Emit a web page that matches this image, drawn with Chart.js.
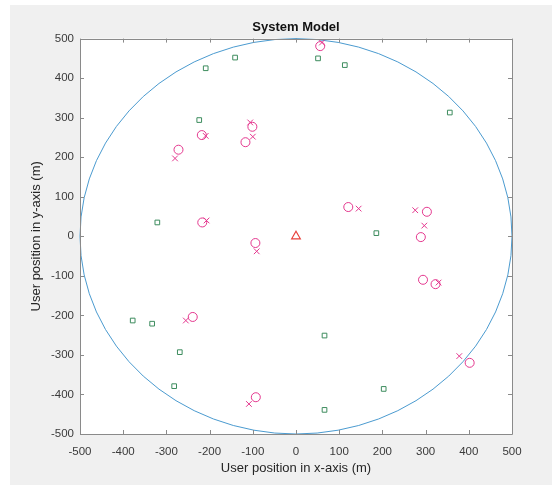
<!DOCTYPE html>
<html><head><meta charset="utf-8">
<script src="https://cdn.jsdelivr.net/npm/chart.js@4/dist/chart.umd.min.js"></script>
<style>html,body{margin:0;padding:0;background:#fff;}#wrap{width:552px;height:485px;position:relative;}canvas{display:block;}</style>
</head><body><div id="wrap"><canvas id="c" width="552" height="485"></canvas></div>
<script>
const titleText = 'System Model';
const xAxisTitle = 'User position in x-axis (m)';
const yAxisTitle = 'User position in y-axis (m)';
const axisMin = -500, axisMax = 500, tickStep = 100;
const cellRadius = 500;

// base station
const bsX = [0];
const bsY = [0];
// green squares
const squareX = [-378, -333, 66, -269, -282, 203, 66, -321, 186, 51, 113, -141, -209, -224, 356];
const squareY = [-213, -221, -251, -293, -379, -386, -439, 35, 8, 450, 433, 452, 425, 294, 313];
// magenta circles
const circleX = [-239, 402, -93, -217, -94, 121, 303, 289, 294, 323, 56, -218, -101, -117, -272];
const circleY = [-204, -320, -407, 35, -17, 74, 62, -2, -110, -121, 481, 256, 277, 238, 219];
// magenta crosses
const crossX = [-255, 378, -109, -207, -91, 145, 276, 297, 330, 60, -209, -106, -100, -280];
const crossY = [-213, -303, -424, 40, -38, 70, 66, 27, -117, 490, 254, 288, 252, 197];

const pts = (xs, ys) => xs.map((v, i) => ({x: v, y: ys[i]}));

const fontFam = '"Liberation Sans", Arial, Helvetica, sans-serif';

const frame = {
  id: 'frame',
  beforeDraw(chart) {
    const {ctx, width, height, chartArea: a} = chart;
    ctx.save();
    ctx.fillStyle = '#ffffff';
    ctx.fillRect(0, 0, width, height);
    ctx.fillStyle = '#f0f0f0';
    ctx.fillRect(10, 5, width - 10, height - 5);
    ctx.fillStyle = '#ffffff';
    ctx.fillRect(a.left, a.top, a.right - a.left, a.bottom - a.top);
    ctx.restore();
  },
  beforeDatasetsDraw(chart) {
    const {ctx, scales: {x, y}} = chart;
    const cx = x.getPixelForValue(0), cy = y.getPixelForValue(0);
    const rx = x.getPixelForValue(cellRadius) - cx;
    const ry = cy - y.getPixelForValue(cellRadius);
    ctx.save();
    ctx.strokeStyle = '#4b9bd0';
    ctx.lineWidth = 1;
    ctx.beginPath();
    ctx.ellipse(cx, cy, rx, ry, 0, 0, Math.PI * 2);
    ctx.stroke();
    ctx.restore();
  },
  afterDatasetsDraw(chart) {
    const {ctx, chartArea: a, scales: {x, y}} = chart;
    ctx.save();
    ctx.strokeStyle = '#8a8a8a';
    ctx.lineWidth = 1;
    ctx.beginPath();
    ctx.rect(Math.round(a.left) + 0.5, Math.round(a.top) + 0.5, Math.round(a.right - a.left), Math.round(a.bottom - a.top));
    ctx.stroke();
    const L = 4;
    ctx.beginPath();
    x.ticks.forEach(t => {
      const px = Math.round(x.getPixelForValue(t.value)) + 0.5;
      ctx.moveTo(px, a.bottom); ctx.lineTo(px, a.bottom - L);
      ctx.moveTo(px, a.top); ctx.lineTo(px, a.top + L);
    });
    y.ticks.forEach(t => {
      const py = Math.round(y.getPixelForValue(t.value)) + 0.5;
      ctx.moveTo(a.left, py); ctx.lineTo(a.left + L, py);
      ctx.moveTo(a.right, py); ctx.lineTo(a.right - L, py);
    });
    ctx.stroke();
    ctx.restore();
  }
};

new Chart(document.getElementById('c'), {
  type: 'scatter',
  data: {
    datasets: [
      {data: pts(squareX, squareY), pointStyle: 'rect', radius: 3.3, borderColor: '#3d8c5e', backgroundColor: 'rgba(0,0,0,0)', borderWidth: 1},
      {data: pts(circleX, circleY), pointStyle: 'circle', radius: 4.5, borderColor: '#e5388f', backgroundColor: 'rgba(0,0,0,0)', borderWidth: 1},
      {data: pts(crossX, crossY), pointStyle: 'crossRot', radius: 4, borderColor: '#e5388f', backgroundColor: 'rgba(0,0,0,0)', borderWidth: 1},
      {data: pts(bsX, bsY), pointStyle: 'triangle', radius: 5, borderColor: '#e8413c', backgroundColor: 'rgba(0,0,0,0)', borderWidth: 1.2}
    ]
  },
  options: {
    responsive: false,
    animation: false,
    events: [],
    layout: {padding: {left: 0, right: 40, top: 0, bottom: 0}},
    plugins: {
      legend: {display: false},
      tooltip: {enabled: false},
      title: {display: true, text: titleText, fullSize: false, color: '#111',
        font: {family: fontFam, size: 13, weight: 'bold'}, padding: {top: 20, bottom: 3}}
    },
    scales: {
      x: {
        type: 'linear', min: axisMin, max: axisMax,
        grid: {display: false, drawTicks: false},
        border: {display: false},
        ticks: {stepSize: tickStep, padding: 11, color: '#3a3a3a', font: {family: fontFam, size: 11.5}, maxRotation: 0},
        title: {display: true, text: xAxisTitle, color: '#262626', font: {family: fontFam, size: 13}, padding: {top: 0, bottom: 9}},
        afterFit(s) { s.height = 51; }
      },
      y: {
        type: 'linear', min: axisMin, max: axisMax,
        grid: {display: false, drawTicks: false},
        border: {display: false},
        ticks: {stepSize: tickStep, padding: 6, color: '#3a3a3a', font: {family: fontFam, size: 11.5}},
        title: {display: true, text: yAxisTitle, color: '#262626', font: {family: fontFam, size: 13}, padding: {top: 29, bottom: 0}},
        afterFit(s) { s.width = 80; }
      }
    }
  },
  plugins: [frame]
});
</script>
</body></html>
